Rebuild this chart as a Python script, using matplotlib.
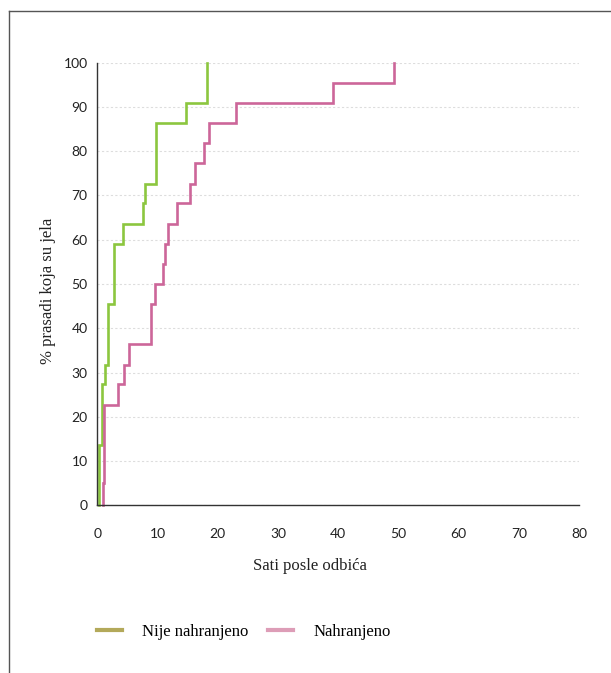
import numpy as np
import matplotlib
matplotlib.use("Agg")
import matplotlib.pyplot as plt
from matplotlib.lines import Line2D

# hours after weaning at which each step happens, and cumulative % of piglets that ate
hours_nije = [0.2, 0.8, 1.3, 1.8, 2.8, 4.3, 7.6, 8.0, 9.8, 14.7, 18.2]
pct_nije = [13.6, 27.3, 31.8, 45.5, 59.1, 63.6, 68.2, 72.7, 86.4, 90.9, 100]

hours_nahr = [0.9, 1.1, 3.5, 4.5, 5.3, 8.9, 9.6, 10.9, 11.2, 11.75, 13.2,
              15.4, 16.2, 17.7, 18.6, 23.0, 39.1, 49.2]
pct_nahr = [5.0, 22.7, 27.3, 31.8, 36.4, 45.5, 50.0, 54.5, 59.1, 63.6, 68.2,
            72.7, 77.3, 81.8, 86.4, 90.9, 95.5, 100]

labels = ["Nije nahranjeno", "Nahranjeno"]
line_colors = ["#8cc63f", "#cc6699"]
legend_colors = ["#b3a95a", "#dd9db7"]

W, H = 611, 673
fig = plt.figure(figsize=(W / 100, H / 100), dpi=100)

# outer frame (top and left edges only)
fig.add_artist(Line2D([9 / W, 9 / W], [0, 1 - 11 / H], color="#555555", lw=1.0))
fig.add_artist(Line2D([9 / W, 1], [1 - 11 / H, 1 - 11 / H], color="#555555", lw=1.0))

ax_l, ax_b, ax_w, ax_h = 97.3, 505.3, 481.7, 442.6
ax = fig.add_axes([ax_l / W, 1 - ax_b / H, ax_w / W, ax_h / H])

for hrs, pct, c in zip([hours_nije, hours_nahr], [pct_nije, pct_nahr], line_colors):
    x = np.r_[hrs[0], hrs]
    y = np.r_[0, pct]
    ax.step(x, y, where="post", color=c, lw=1.9, solid_joinstyle="miter", clip_on=False)

ax.set_xlim(0, 80)
ax.set_ylim(0, 100)
ax.set_xticks(np.arange(0, 81, 10))
ax.set_yticks(np.arange(0, 101, 10))

for s in ["top", "right"]:
    ax.spines[s].set_visible(False)
for s in ["left", "bottom"]:
    ax.spines[s].set_color("#333333")
    ax.spines[s].set_linewidth(1.0)

ax.yaxis.grid(True, linestyle=(0, (2, 2)), color="#dddddd", lw=0.8)
ax.set_axisbelow(True)
ax.tick_params(axis="both", length=0, labelsize=10, labelcolor="#222222")
ax.tick_params(axis="x", pad=16)
ax.tick_params(axis="y", pad=7)
for lab in ax.get_xticklabels() + ax.get_yticklabels():
    lab.set_family("Lato")

ax.set_xlabel("Sati posle odbića", family="Liberation Serif", fontsize=12,
              color="#222222")
ax.set_ylabel("% prasadi koja su jela", family="Liberation Serif", fontsize=12,
              color="#222222")
ax.xaxis.set_label_coords((310 - ax_l) / ax_w, -(566 - ax_b) / ax_h)
ax.yaxis.set_label_coords(-(ax_l - 48) / ax_w, (ax_b - 291) / ax_h)
ax.xaxis.label.set_va("center")
ax.yaxis.label.set_va("center")

handles = [Line2D([], [], color=c, lw=3) for c in legend_colors]
fig.legend(handles, labels, loc="center left", bbox_to_anchor=(97 / W, 1 - 632 / H),
           ncol=2, frameon=False, prop={"family": "Liberation Serif", "size": 12},
           handlelength=1.5, handletextpad=1.2, columnspacing=1.2,
           borderpad=0, borderaxespad=0)

fig.savefig("out.png", dpi=100)
